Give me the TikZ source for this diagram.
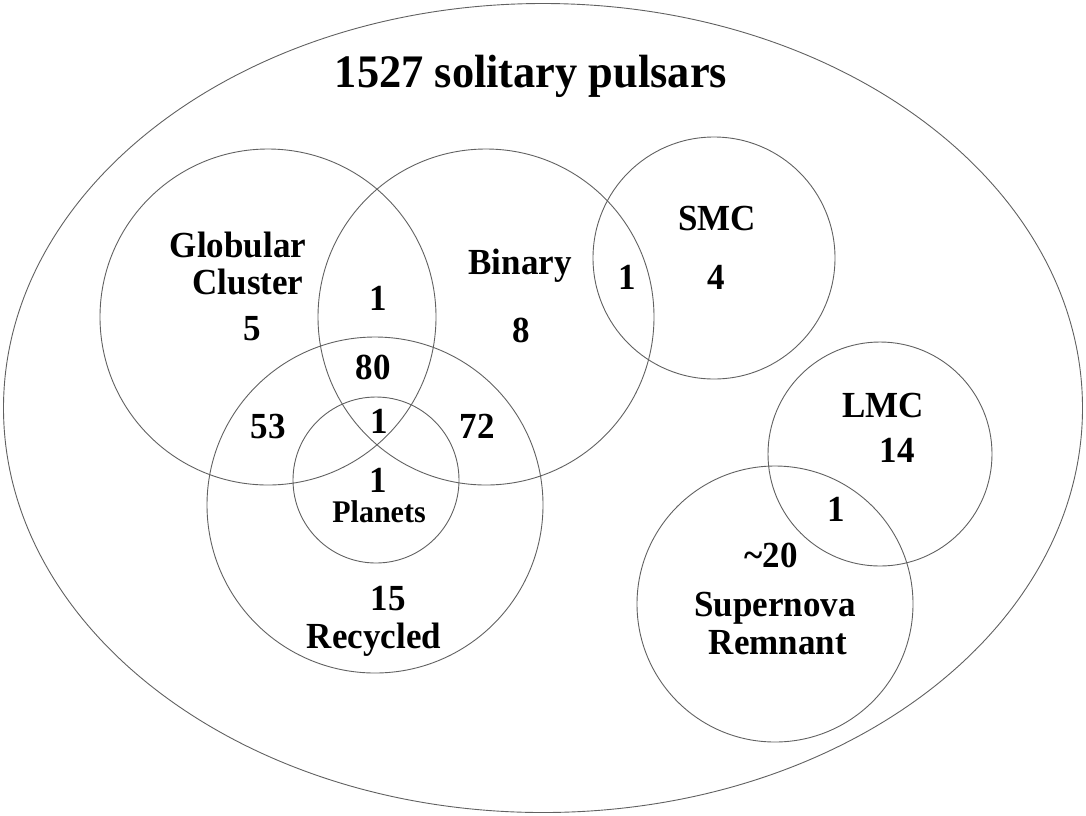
\documentclass[tikz,border=0pt]{standalone}
\usepackage{fontspec}
\usepackage{graphicx}
\setmainfont{Liberation Serif}
\usetikzlibrary{shapes.geometric}
\newcommand{\tallt}[1]{\scalebox{1}[1.05]{#1}}
\tikzset{
  ring/.style={draw=black!62, line width=0.9pt, circle, inner sep=0pt, fill=none},
  lbl/.style={font=\fontsize{35}{40}\selectfont\bfseries, anchor=base, inner sep=0pt},
  small/.style={font=\fontsize{30}{34}\selectfont\bfseries, anchor=base, inner sep=0pt},
  ttl/.style={font=\fontsize{44.4}{50}\selectfont\bfseries, anchor=base, inner sep=0pt}
}
\begin{document}
\begin{tikzpicture}[x=1pt,y=-1pt]
\useasboundingbox (0,0) rectangle (1086,815);
% outer ellipse
\node[draw=black!62, line width=0.9pt, ellipse, inner sep=0pt, minimum width=1079pt, minimum height=809pt] (all) at (543,408) {};
% circles
\node[ring, minimum size=336pt] (gc) at (268,317) {};
\node[ring, minimum size=336pt] (bin) at (486,317) {};
\node[ring, minimum size=336pt] (rec) at (375,505) {};
\node[ring, minimum size=166pt] (pla) at (376,480) {};
\node[ring, minimum size=242pt] (smc) at (714,258) {};
\node[ring, minimum size=224pt] (lmc) at (880,454) {};
\node[ring, minimum size=276pt] (snr) at (775,604) {};
% labels
\node[ttl] (title) at (531,87) {\tallt{1527 solitary pulsars}};
\node[lbl] (tglob) at (238,257) {\tallt{Globular}};
\node[lbl] (tclus) at (248,294) {\tallt{Cluster}};
\node[lbl] (n5) at (252,340) {\tallt{5}};
\node[lbl] (ngb) at (378,310) {\tallt{1}};
\node[lbl] (n80) at (373,379) {\tallt{80}};
\node[lbl] (n53) at (268,438) {\tallt{53}};
\node[lbl] (ncen) at (379,433) {\tallt{1}};
\node[lbl] (n72) at (477,438) {\tallt{72}};
\node[lbl] (npl) at (378,492) {\tallt{1}};
\node[small] (tpla) at (379,522) {\tallt{Planets}};
\node[lbl] (n15) at (388,610) {\tallt{15}};
\node[lbl] (trec) at (374,648) {\tallt{Recycled}};
\node[lbl] (tbin) at (520,274) {\tallt{Binary}};
\node[lbl] (n8) at (521,342) {\tallt{8}};
\node[lbl] (nbs) at (627,289) {\tallt{1}};
\node[lbl] (tsmc) at (717,230) {\tallt{SMC}};
\node[lbl] (n4) at (716,289) {\tallt{4}};
\node[lbl] (tlmc) at (883,417) {\tallt{LMC}};
\node[lbl] (n14) at (897,462) {\tallt{14}};
\node[lbl] (nls) at (836,521) {\tallt{1}};
\node[lbl] (n20) at (771,567) {\tallt{\textasciitilde20}};
\node[lbl] (tsup) at (775,616) {\tallt{Supernova}};
\node[lbl] (trem) at (778,654) {\tallt{Remnant}};
\end{tikzpicture}
\end{document}
